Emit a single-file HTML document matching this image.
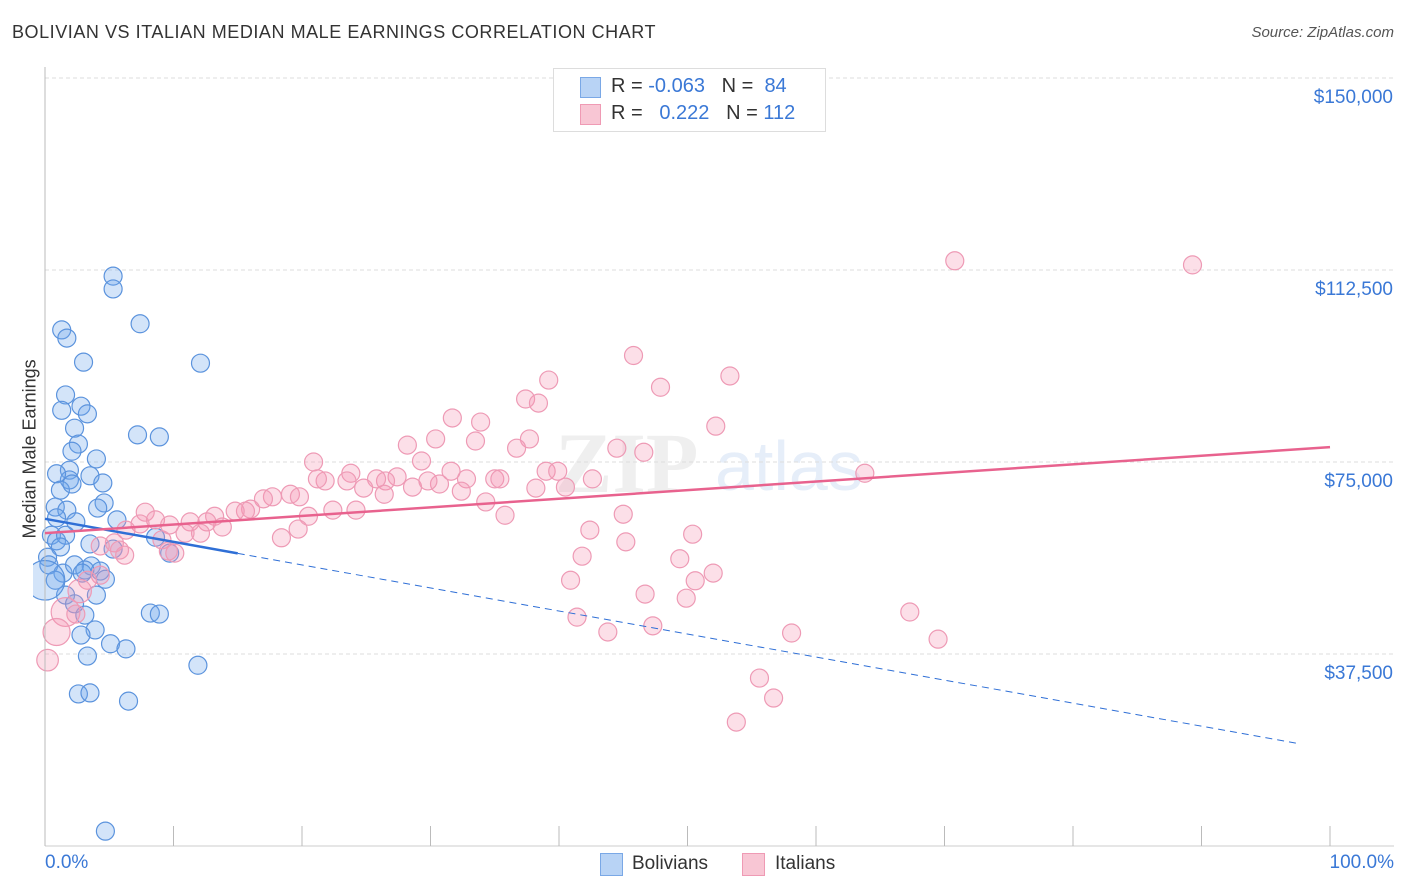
<!DOCTYPE html>
<html><head><meta charset="utf-8"><style>
body{margin:0;background:#fff;font-family:"Liberation Sans",sans-serif;}
#wrap{position:relative;width:1406px;height:892px;overflow:hidden;}
.t{position:absolute;white-space:nowrap;}
</style></head><body>
<div id="wrap">
<div class="t" style="left:12px;top:22px;font-size:18px;color:#333;letter-spacing:0.55px">BOLIVIAN VS ITALIAN MEDIAN MALE EARNINGS CORRELATION CHART</div>
<div class="t" style="right:12px;top:24px;font-size:15px;color:#555;font-style:italic">Source: ZipAtlas.com</div>
<svg id="plot" width="1406" height="892" style="position:absolute;left:0;top:0"></svg>
<div style="position:absolute;left:553px;top:68px;width:271px;height:62px;border:1px solid #ddd;background:#fff">
 <div style="position:absolute;left:26px;top:8px;width:19px;height:19px;background:#b8d3f5;border:1px solid #7aa8e6"></div>
 <div class="t" style="left:57px;top:6px;font-size:20px;color:#333">R = <span style="color:#3a78d6">-0.063</span>&nbsp;&nbsp;&nbsp;N = &nbsp;<span style="color:#3a78d6">84</span></div>
 <div style="position:absolute;left:26px;top:35px;width:19px;height:19px;background:#f8c6d4;border:1px solid #ef9ab4"></div>
 <div class="t" style="left:57px;top:33px;font-size:20px;color:#333">R = &nbsp;&nbsp;<span style="color:#3a78d6">0.222</span>&nbsp;&nbsp;&nbsp;N = <span style="color:#3a78d6">112</span></div>
</div>
<div style="position:absolute;left:600px;top:853px;width:21px;height:21px;background:#b8d3f5;border:1px solid #7aa8e6"></div>
<div class="t" style="left:632px;top:853px;font-size:19px;color:#333">Bolivians</div>
<div style="position:absolute;left:742px;top:853px;width:21px;height:21px;background:#f8c6d4;border:1px solid #ef9ab4"></div>
<div class="t" style="left:775px;top:853px;font-size:19px;color:#333">Italians</div>
<div class="t" style="left:45px;top:852px;font-size:19px;color:#3a78d6">0.0%</div>
<div class="t" style="right:12px;top:852px;font-size:19px;color:#3a78d6">100.0%</div>
<div class="t" style="left:-55px;top:443px;font-size:18px;color:#333;transform:rotate(-90deg);width:170px;text-align:center">Median Male Earnings</div>
</div>
<script>
const yTicks=[37500,75000,112500,150000];
const yTickLabels=["$37,500","$75,000","$112,500","$150,000"];
const bolX=[5.3,5.3,7.4,1.3,1.7,3.0,12.1,1.6,1.3,2.8,3.3,2.3,2.6,7.2,8.9,2.1,4.0,1.9,1.9,3.5,0.9,4.5,1.2,2.1,4.6,4.1,0.8,1.7,0.9,2.4,5.6,0.5,0.9,1.6,8.6,1.2,0.2,0.3,3.5,5.3,9.7,1.4,2.3,3.6,4.3,4.7,3.1,2.9,0.8,1.6,4.0,2.3,3.1,3.9,2.8,5.1,6.3,3.3,8.2,8.9,2.6,3.5,6.5,11.9,4.7,0];
const bolY=[111300,108800,102000,100800,99200,94500,94300,88100,85100,85900,84400,81600,78500,80300,79900,77100,75600,73400,71500,72300,72700,70900,69500,70700,67000,66000,66200,65600,64100,63300,63700,60700,59600,60700,60300,58400,56400,54900,59000,58000,57200,53300,54900,54700,53700,52100,53900,53300,51900,49000,49000,47300,45100,42200,41200,39500,38500,37100,45500,45300,29700,29900,28300,35300,2900,51900];
const bolSize=[1,1,1,1,1,1,1,1,1,1,1,1,1,1,1,1,1,1,1,1,1,1,1,1,1,1,1,1,1,1,1,1,1,1,1,1,1,1,1,1,1,1,1,1,1,1,1,1,1,1,1,1,1,1,1,1,1,1,1,1,1,1,1,1,1,2.2];
const itaX=[70.8,89.3,45.8,53.3,39.2,47.9,37.4,38.4,31.7,52.2,33.9,28.2,30.4,33.5,37.7,44.5,46.6,36.7,20.9,29.3,31.6,27.4,26.5,39.0,39.9,63.8,35.0,35.4,32.8,23.8,25.8,21.8,21.2,23.5,30.7,28.6,29.8,24.8,19.1,19.8,32.4,38.2,42.6,40.5,17.7,26.4,34.3,17.0,16.0,15.6,14.8,22.4,20.5,24.2,35.8,7.8,8.6,9.7,13.2,12.6,11.3,7.4,6.3,13.8,12.1,10.9,19.7,18.4,9.1,10.1,9.6,5.4,4.3,42.4,45.0,50.4,45.2,41.8,49.4,52.0,40.9,50.6,49.9,46.7,41.4,43.8,47.3,58.1,67.3,69.5,55.6,56.7,53.8,5.8,4.3,3.3,2.7,1.6,0.9,0.2,2.4,6.2];
const itaY=[114300,113500,95800,91800,91000,89600,87300,86500,83600,82000,82800,78300,79500,79100,79500,77700,76900,77700,75000,75200,73200,72100,71300,73200,73200,72800,71700,71700,71700,72800,71700,71300,71700,71300,70700,70100,71300,69900,68700,68200,69300,69900,71700,70100,68200,68700,67200,67800,65800,65400,65400,65600,64400,65600,64600,65200,63700,62700,64400,63300,63300,62900,61700,62300,61100,61100,61900,60200,59800,57200,57600,59200,58600,61700,64800,60900,59400,56600,56100,53300,51900,51800,48400,49200,44700,41800,43000,41600,45700,40400,32800,28900,24200,57800,52900,51900,49800,45700,41800,36300,45300,56800];
const itaBig={97:1.6,98:1.5,99:1.2,96:1.3};
const bolTrend=[63900,18900];
const itaTrend=[61100,77900];
const X0=45,X1=1330,Y0=846,PXPER=192/37500;
const sx=v=>X0+(X1-X0)*v/100, sy=v=>Y0-v*PXPER;
const svg=document.getElementById('plot'),NS='http://www.w3.org/2000/svg';
function mk(t,a){const e=document.createElementNS(NS,t);for(const k in a)e.setAttribute(k,a[k]);svg.appendChild(e);return e;}
let w=mk('text',{x:555,y:492,'font-size':86,fill:'#efefef','font-family':'Liberation Serif, serif','font-weight':'bold'});w.textContent='ZIP';


let w2=mk('text',{x:715,y:490,'font-size':70,fill:'#e6eef9','font-family':'Liberation Sans, sans-serif'});w2.textContent='atlas';


yTicks.forEach((v,i)=>{
 const g=mk('line',{x1:X0,x2:1394,y1:sy(v),y2:sy(v),stroke:'#ddd','stroke-dasharray':'4,3'});
 
 
 const t=mk('text',{x:1393,y:sy(v)+25,'text-anchor':'end','font-size':19,fill:'#3a78d6','font-family':'Liberation Sans, sans-serif'});
 t.textContent=yTickLabels[i];
 
 
});
const cp=mk('clipPath',{id:'cp'});const cr=document.createElementNS(NS,'rect');cr.setAttribute('x',X0-12);cr.setAttribute('y',60);cr.setAttribute('width',1400);cr.setAttribute('height',790);cp.appendChild(cr);
const g=mk('g',{'clip-path':'url(#cp)'});


function mg(t,a){const e=mk(t,a);g.appendChild(e);return e;}
const ax=mk('line',{x1:X0,x2:X0,y1:67,y2:846,stroke:'#bbb'});


const bx=mk('line',{x1:X0,x2:1394,y1:846,y2:846,stroke:'#ccc'});


for(let i=0;i<=10;i++){const tk=mk('line',{x1:sx(i*10),x2:sx(i*10),y1:826,y2:846,stroke:'#bbb'});
 
 }
bolX.forEach((x,i)=>{const c=mg('circle',{cx:sx(x),cy:sy(bolY[i]),r:9*bolSize[i],fill:'rgba(110,165,235,0.3)',stroke:'#5b93dd','stroke-width':1.2});
 
 });
itaX.forEach((x,i)=>{const c=mg('circle',{cx:sx(x),cy:sy(itaY[i]),r:9*(itaBig[i]||1),fill:'rgba(245,150,180,0.3)',stroke:'#ee9ab5','stroke-width':1.2});
 
 });
const bAt=p=>bolTrend[0]+(bolTrend[1]-bolTrend[0])*p/100;
let l=mk('line',{x1:sx(0),y1:sy(bAt(0)),x2:sx(15),y2:sy(bAt(15)),stroke:'#2f6fd6','stroke-width':2.5});


l=mk('line',{x1:sx(15),y1:sy(bAt(15)),x2:sx(97.5),y2:sy(bAt(97.5)),stroke:'#2f6fd6','stroke-width':1,'stroke-dasharray':'7,5'});


l=mk('line',{x1:sx(0),y1:sy(itaTrend[0]),x2:sx(100),y2:sy(itaTrend[1]),stroke:'#e8628e','stroke-width':2.5});


</script>
</body></html>
